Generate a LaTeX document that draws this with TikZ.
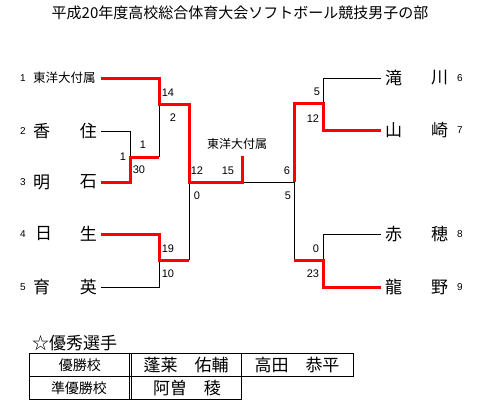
\documentclass[tikz,border=0pt]{standalone}
\usepackage{fontspec}
\setmainfont{Noto Sans CJK JP}
\newfontfamily\numfont{Liberation Sans}
\begin{document}
\begin{tikzpicture}[x=1pt,y=-1pt,
  win/.style={draw=red,line width=3pt,line join=miter},
  lose/.style={draw=black,line width=0.9pt},
  nm/.style={inner sep=0pt,font=\fontsize{17}{17}\selectfont},
  seed/.style={inner sep=0pt,font=\numfont\fontsize{10}{10}\selectfont},
  sc/.style={inner sep=0pt,font=\numfont\fontsize{11}{11}\selectfont},
  cell/.style={draw=black,line width=0.9pt}]
\useasboundingbox (0,0) rectangle (483,418);
\fill[white] (0,0) rectangle (483,418);
\node[inner sep=0pt,font=\fontsize{15}{15}\selectfont] (title) at (240,13) {平成20年度高校総合体育大会ソフトボール競技男子の部};
% seeds and names left
\node[seed] (s1) at (23,78) {1};
\node[seed] (s2) at (23,131) {2};
\node[seed] (s3) at (23,182) {3};
\node[seed] (s4) at (23,234) {4};
\node[seed] (s5) at (23,287) {5};
\node[inner sep=0pt,anchor=west,font=\fontsize{12.5}{12.5}\selectfont] (n1) at (33,78) {東洋大付属};
\node[nm,anchor=west] (n2a) at (33,131) {香};\node[nm,anchor=east] (n2b) at (97,131) {住};
\node[nm,anchor=west] (n3a) at (33,182) {明};\node[nm,anchor=east] (n3b) at (97,182) {石};
\node[nm,anchor=west] (n4a) at (35,234) {日};\node[nm,anchor=east] (n4b) at (97,234) {生};
\node[nm,anchor=west] (n5a) at (33,287) {育};\node[nm,anchor=east] (n5b) at (97,287) {英};
% right
\node[nm,anchor=west] (n6a) at (385,78) {滝};\node[nm,anchor=west] (n6b) at (431,78) {川};
\node[nm,anchor=west] (n7a) at (385,130) {山};\node[nm,anchor=west] (n7b) at (431,130) {崎};
\node[nm,anchor=west] (n8a) at (385,234) {赤};\node[nm,anchor=west] (n8b) at (431,234) {穂};
\node[nm,anchor=west] (n9a) at (385,287) {龍};\node[nm,anchor=west] (n9b) at (431,287) {野};
\node[seed] (s6) at (460,78) {6};
\node[seed] (s7) at (460,130) {7};
\node[seed] (s8) at (460,234) {8};
\node[seed] (s9) at (460,287) {9};
% coordinates
\coordinate (e1) at (101,78); \coordinate (e2) at (101,131); \coordinate (e3) at (101,182);
\coordinate (e4) at (101,234); \coordinate (e5) at (101,287);
\coordinate (e6) at (381,78); \coordinate (e7) at (381,130);
\coordinate (e8) at (381,234); \coordinate (e9) at (381,287);
\coordinate (a1) at (159,78); \coordinate (a2) at (159,104); \coordinate (a3) at (189,104);
\coordinate (b1) at (130,131); \coordinate (b2) at (130,157); \coordinate (b3) at (159,157);
\coordinate (b4) at (130,182);
\coordinate (c1) at (159,234); \coordinate (c2) at (159,260); \coordinate (c3) at (189,260);
\coordinate (c4) at (159,287);
\coordinate (d1) at (189,182); \coordinate (d2) at (242,182); \coordinate (d3) at (242,156);
\coordinate (f1) at (294,182); \coordinate (f2) at (294,103); \coordinate (f3) at (323,103);
\coordinate (f4) at (323,130); \coordinate (f5) at (323,78);
\coordinate (g1) at (294,260); \coordinate (g2) at (323,260); \coordinate (g3) at (323,287);
\coordinate (g4) at (323,234);
% losers
\draw[lose] (e2) -- (b1) -- (b2);
\draw[lose] (b3) -- (a2);
\draw[lose] (e5) -- (c4) -- (c2);
\draw[lose] (d1) -- (c3);
\draw[lose] (d2) -- (f1) -- (g1);
\draw[lose] (e6) -- (f5) -- (f3);
\draw[lose] (e8) -- (g4) -- (g2);
% winners
\draw[win] (e1) -- (a1) -- (a2) -- (a3) -- (d1) -- (d2) -- (d3);
\draw[win] (e3) -- (b4) -- (b2) -- (b3);
\draw[win] (e4) -- (c1) -- (c2) -- (c3);
\draw[win] (f1) -- (f2) -- (f3) -- (f4) -- (e7);
\draw[win] (g1) -- (g2) -- (g3) -- (e9);
% scores
\node[sc] (t14) at (168,93) {14};
\node[sc] (t2) at (173,118) {2};
\node[sc] (t1a) at (143,145) {1};
\node[sc] (t1b) at (123,157) {1};
\node[sc] (t30) at (139,170) {30};
\node[sc] (t19) at (168,249) {19};
\node[sc] (t10) at (168,274) {10};
\node[sc] (t12) at (197,171) {12};
\node[sc] (t15) at (228,171) {15};
\node[sc] (t6) at (287,171) {6};
\node[sc] (t0) at (197,196) {0};
\node[sc] (t5) at (288,196) {5};
\node[inner sep=0pt,font=\fontsize{12}{12}\selectfont] (champ) at (237,144) {東洋大付属};
\node[sc] (r5) at (317,92) {5};
\node[sc] (r12) at (313,119) {12};
\node[sc] (r0) at (316,249) {0};
\node[sc] (r23) at (313,274) {23};
% bottom
\node[inner sep=0pt,anchor=west,font=\fontsize{17}{17}\selectfont] (star) at (32,343) {☆優秀選手};
\draw[cell] (29,353) rectangle (353,376);
\draw[cell] (29,376) rectangle (241,399);
\draw[cell] (129,353) -- (129,399);
\draw[cell] (131.5,353) -- (131.5,399);
\draw[cell] (241,353) -- (241,376);
\node[inner sep=0pt,font=\fontsize{14}{14}\selectfont] (k1) at (80,365) {優勝校};
\node[inner sep=0pt,font=\fontsize{14}{14}\selectfont] (k2) at (79,388) {準優勝校};
\node[inner sep=0pt,font=\fontsize{17}{17}\selectfont] (p1) at (186,365) {蓬莱　佑輔};
\node[inner sep=0pt,font=\fontsize{17}{17}\selectfont] (p2) at (297,365) {高田　恭平};
\node[inner sep=0pt,font=\fontsize{17}{17}\selectfont] (p3) at (187,388) {阿曽　稜};
\end{tikzpicture}
\end{document}
